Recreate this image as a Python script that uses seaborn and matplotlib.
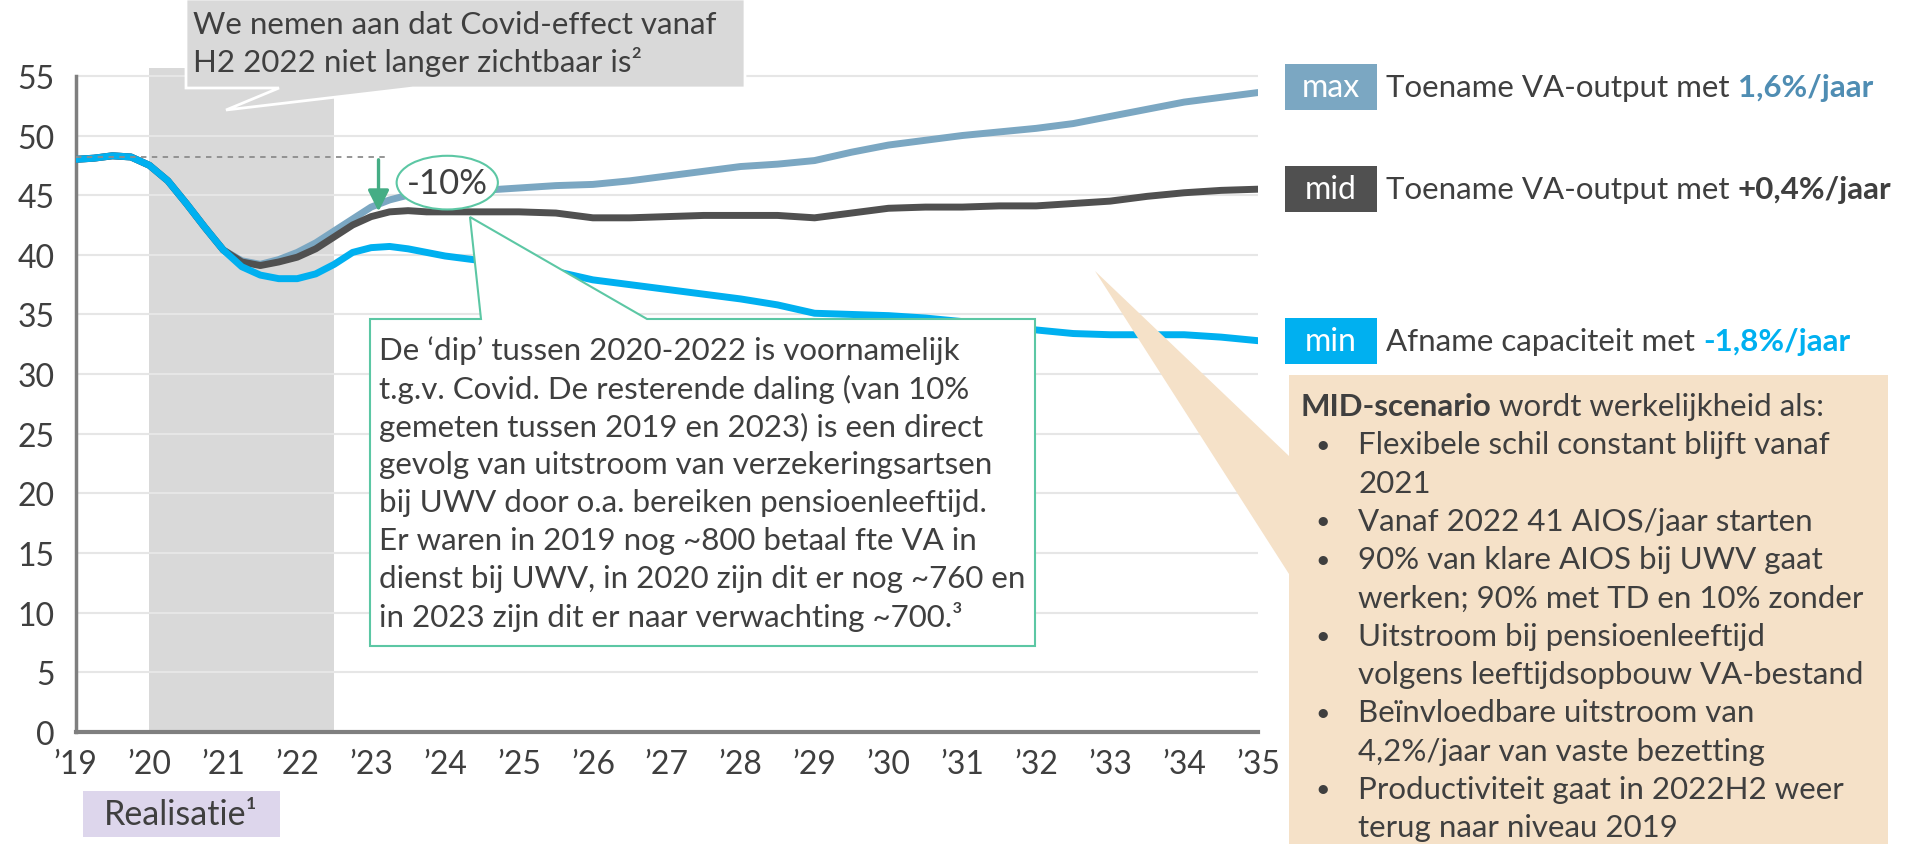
import pandas as pd
import seaborn as sns
import matplotlib.pyplot as plt
from matplotlib.patches import Polygon, Rectangle, Ellipse
from matplotlib.text import Annotation

# data: quarters up to 2024, half years after
jaren = [2019.0, 2019.25, 2019.5, 2019.75, 2020.0, 2020.25, 2020.5, 2020.75, 2021.0, 2021.25,
         2021.5, 2021.75, 2022.0, 2022.25, 2022.5, 2022.75, 2023.0, 2023.25, 2023.5, 2023.75,
         2024.0, 2024.5, 2025.0, 2025.5, 2026.0, 2026.5, 2027.0, 2027.5, 2028.0, 2028.5,
         2029.0, 2029.5, 2030.0, 2030.5, 2031.0, 2031.5, 2032.0, 2032.5, 2033.0, 2033.5,
         2034.0, 2034.5, 2035.0]
max_scen = [48.0, 48.1, 48.3, 48.2, 47.5, 46.2, 44.3, 42.3, 40.4, 39.5,
            39.2, 39.6, 40.2, 41.0, 42.0, 43.0, 44.0, 44.6, 45.0, 45.2,
            45.3, 45.4, 45.6, 45.8, 45.9, 46.2, 46.6, 47.0, 47.4, 47.6,
            47.9, 48.6, 49.2, 49.6, 50.0, 50.3, 50.6, 51.0, 51.6, 52.2,
            52.8, 53.2, 53.6]
mid_scen = [48.0, 48.1, 48.3, 48.2, 47.5, 46.2, 44.3, 42.3, 40.4, 39.4,
            39.1, 39.4, 39.8, 40.5, 41.5, 42.5, 43.2, 43.6, 43.7, 43.6,
            43.6, 43.6, 43.6, 43.5, 43.1, 43.1, 43.2, 43.3, 43.3, 43.3,
            43.1, 43.5, 43.9, 44.0, 44.0, 44.1, 44.1, 44.3, 44.5, 44.9,
            45.2, 45.4, 45.5]
min_scen = [48.0, 48.1, 48.3, 48.2, 47.5, 46.2, 44.3, 42.3, 40.4, 39.0,
            38.3, 38.0, 38.0, 38.4, 39.2, 40.2, 40.6, 40.7, 40.5, 40.2,
            39.9, 39.5, 39.0, 38.6, 37.9, 37.5, 37.1, 36.7, 36.3, 35.8,
            35.1, 35.0, 34.9, 34.7, 34.4, 34.0, 33.7, 33.4, 33.3, 33.3,
            33.3, 33.1, 32.8]
yticks = list(range(0, 60, 5))
xtick_labels = ["’19", "’20", "’21", "’22", "’23", "’24", "’25", "’26", "’27",
                "’28", "’29", "’30", "’31", "’32", "’33", "’34", "’35"]

kleuren = {"max": "#7BA7C2", "mid": "#505050", "min": "#00B0F0"}
tekst = "#3F3F3F"
groen = "#5CC7A4"

df = pd.DataFrame({"jaar": jaren, "max": max_scen, "mid": mid_scen, "min": min_scen})
df = df.melt(id_vars="jaar", var_name="scenario", value_name="waarde")

sns.set_style("white")
plt.rcParams["font.family"] = ["Lato", "DejaVu Sans"]

W, H = 1910, 845
fig = plt.figure(figsize=(W / 100, H / 100), dpi=100)


def fx(px):
    return px / W


def fy(py):
    return 1 - py / H


def na(tekst_obj, s, **kw):
    # tekst direct achter een andere tekst plaatsen (op figuurniveau)
    an = Annotation(s, xy=(1, 0), xycoords=tekst_obj, va="bottom", ha="left",
                    annotation_clip=False, zorder=6, **kw)
    fig.add_artist(an)
    return an


ymax = 55.7
ax = fig.add_axes([fx(75.5), fy(733), (1258 - 75.5) / W, (733 - 68.5) / H])

ax.axvspan(2020, 2022.5, color="#D9D9D9", zorder=0, lw=0)
for t in yticks[1:]:
    ax.axhline(t, color="#E6E6E6", lw=1.5, zorder=0.5)

sns.lineplot(data=df, x="jaar", y="waarde", hue="scenario", hue_order=["max", "mid", "min"],
             palette=kleuren, linewidth=5, legend=False, ax=ax, zorder=3)

ax.set_xlim(2019, 2035)
ax.set_ylim(0, ymax)
ax.set_xticks(range(2019, 2036))
ax.set_xticklabels(xtick_labels)
ax.set_yticks(yticks)
ax.set_xlabel("")
ax.set_ylabel("")
for s in ["top", "right"]:
    ax.spines[s].set_visible(False)
ax.spines["left"].set_bounds(0, 55)
ax.spines["left"].set_color("#7F7F7F")
ax.spines["left"].set_linewidth(2.5)
ax.spines["bottom"].set_color("#7F7F7F")
ax.spines["bottom"].set_linewidth(3)
ax.tick_params(axis="y", length=7, width=2, color="#7F7F7F", labelsize=23, labelcolor=tekst, pad=8)
ax.tick_params(axis="x", length=0, labelsize=23, labelcolor=tekst, pad=12)

# stippellijn, pijl en -10% label
ax.plot([2019, 2023.2], [48.2, 48.2], ls=(0, (3, 3)), color="#8C8C8C", lw=1.3, zorder=4)
ax.annotate("", xy=(2023.1, 43.4), xytext=(2023.1, 48.2),
            arrowprops=dict(arrowstyle="-|>", color="#45AD85", lw=2.4, mutation_scale=32), zorder=5)
ax.add_patch(Ellipse((2024.03, 46.05), 1.37, 4.5, facecolor="white", edgecolor=groen, lw=1.5, zorder=6))
ax.text(2024.03, 46.05, "-10%", ha="center", va="center", fontsize=25, color=tekst, zorder=7)

# grijze tekstballon bovenaan
grijs = [(186, 0), (745, 0), (745, 89), (413, 89), (226, 111), (279, 89), (186, 89)]
fig.patches.append(Polygon([(fx(x), fy(y)) for x, y in grijs], closed=True, transform=fig.transFigure,
                           facecolor="#D9D9D9", edgecolor="white", lw=2, zorder=5))
fig.text(fx(193), fy(25), "We nemen aan dat Covid-effect vanaf", fontsize=22.5, color=tekst, va="center", zorder=6)
fig.text(fx(193), fy(62), "H2 2022 niet langer zichtbaar is²", fontsize=22.5, color=tekst, va="center", zorder=6)

# groene callout
callout = [(370, 320), (481, 320), (470, 218), (647, 320), (1035, 320), (1035, 647), (370, 647)]
fig.patches.append(Polygon([(fx(x), fy(y)) for x, y in callout], closed=True, transform=fig.transFigure,
                           facecolor="white", edgecolor=groen, lw=1.5, zorder=5))
callout_regels = [
    "De ‘dip’ tussen 2020-2022 is voornamelijk",
    "t.g.v. Covid. De resterende daling (van 10%",
    "gemeten tussen 2019 en 2023) is een direct",
    "gevolg van uitstroom van verzekeringsartsen",
    "bij UWV door o.a. bereiken pensioenleeftijd.",
    "Er waren in 2019 nog ~800 betaal fte VA in",
    "dienst bij UWV, in 2020 zijn dit er nog ~760 en",
    "in 2023 zijn dit er naar verwachting ~700.³",
]
for i, regel in enumerate(callout_regels):
    fig.text(fx(379), fy(351 + i * 38), regel, fontsize=22.5, color=tekst, va="center", zorder=6)

# scenario labels rechts
labels = [
    ("max", 88, "Toename VA-output met ", "1,6%/jaar", "#4F8DB3"),
    ("mid", 190, "Toename VA-output met ", "+0,4%/jaar", tekst),
    ("min", 342, "Afname capaciteit met ", "-1,8%/jaar", "#00B0F0"),
]
for naam, yc, t1, t2, c2 in labels:
    fig.patches.append(Rectangle((fx(1285), fy(yc + 23)), 92 / W, 46 / H, transform=fig.transFigure,
                                 facecolor=kleuren[naam], edgecolor="none", zorder=5))
    fig.text(fx(1331), fy(yc), naam, fontsize=23, color="white", ha="center", va="center", zorder=6)
    a = fig.text(fx(1386), fy(yc), t1, fontsize=22.5, color=tekst, va="center", zorder=6)
    na(a, t2, fontsize=22.5, color=c2, fontweight="bold")

# oranje MID-scenario blok met wig
oranje = [(1289, 376), (1888, 376), (1888, 845), (1289, 845), (1289, 575), (1095, 272), (1289, 457)]
fig.patches.append(Polygon([(fx(x), fy(y)) for x, y in oranje], closed=True, transform=fig.transFigure,
                           facecolor="#F5E1C8", edgecolor="none", zorder=4))
kop = fig.text(fx(1300), fy(407), "MID-scenario", fontsize=22.5, color=tekst, fontweight="bold",
               va="center", zorder=6)
na(kop, " wordt werkelijkheid als:", fontsize=22.5, color=tekst)
bullet_regels = [
    (True, "Flexibele schil constant blijft vanaf"),
    (False, "2021"),
    (True, "Vanaf 2022 41 AIOS/jaar starten"),
    (True, "90% van klare AIOS bij UWV gaat"),
    (False, "werken; 90% met TD en 10% zonder"),
    (True, "Uitstroom bij pensioenleeftijd"),
    (False, "volgens leeftijdsopbouw VA-bestand"),
    (True, "Beïnvloedbare uitstroom van"),
    (False, "4,2%/jaar van vaste bezetting"),
    (True, "Productiviteit gaat in 2022H2 weer"),
    (False, "terug naar niveau 2019"),
]
for i, (bullet, regel) in enumerate(bullet_regels):
    yy = 407 + (i + 1) * 38.3
    if bullet:
        fig.text(fx(1315), fy(yy), "•", fontsize=18, color=tekst, va="center", zorder=6)
    fig.text(fx(1358), fy(yy), regel, fontsize=22.5, color=tekst, va="center", zorder=6)

# realisatie label
fig.patches.append(Rectangle((fx(83), fy(838)), 197 / W, 46 / H, transform=fig.transFigure,
                             facecolor="#DDD6EC", edgecolor="none", zorder=5))
fig.text(fx(181), fy(815), "Realisatie¹", fontsize=24.5, color=tekst, ha="center", va="center", zorder=6)

fig.savefig("out.png", dpi=100)
